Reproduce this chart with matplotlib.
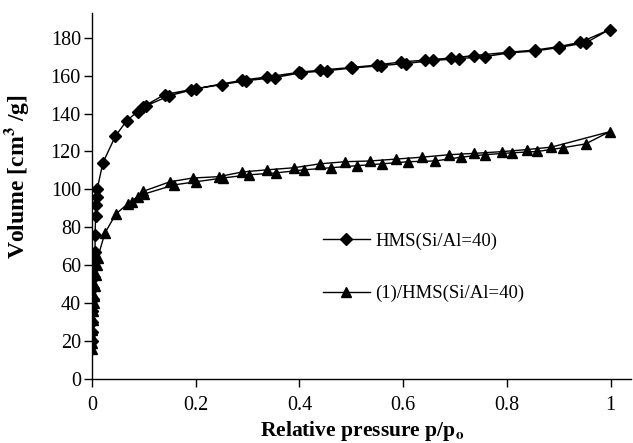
import matplotlib
matplotlib.use("Agg")
import matplotlib.pyplot as plt

plt.rcParams['font.family'] = ['Liberation Serif', 'DejaVu Serif']
plt.rcParams['mathtext.fontset'] = 'stix'

# HMS(Si/Al=40): adsorption branch then desorption branch
hms_ads_p = [0.0003, 0.0005, 0.0008, 0.001, 0.0015, 0.002, 0.003, 0.004, 0.005,
             0.006, 0.006, 0.007, 0.008, 0.009, 0.01, 0.021, 0.045, 0.067, 0.088,
             0.104, 0.149, 0.2, 0.25, 0.297, 0.353, 0.403, 0.453, 0.502, 0.558,
             0.606, 0.658, 0.708, 0.757, 0.805, 0.855, 0.9, 0.953, 0.998]
hms_ads_v = [20, 25, 30, 36, 42, 48, 54, 59, 63, 67, 76, 86, 92, 96, 100, 114,
             128, 136.3, 141, 144, 149.4, 153, 155.3, 157.3, 159, 161.5, 162.6,
             164, 165.3, 166.4, 168, 169, 170, 172, 173, 174.8, 177.4, 184.3]
hms_des_p = [0.942, 0.9, 0.855, 0.805, 0.737, 0.693, 0.643, 0.595, 0.55, 0.5,
             0.44, 0.4, 0.337, 0.29, 0.19, 0.14, 0.098]
hms_des_v = [177.6, 175.3, 173.5, 172.4, 170.6, 169.3, 168.2, 167.2, 165.6,
             164.3, 162.9, 161.8, 159.3, 157.6, 152.6, 150, 143.5]

# (1)/HMS(Si/Al=40)
cat_ads_p = [0.0003, 0.0005, 0.0008, 0.001, 0.0015, 0.002, 0.003, 0.004, 0.005,
             0.007, 0.009, 0.011, 0.025, 0.046, 0.069, 0.088, 0.1, 0.159, 0.2,
             0.252, 0.303, 0.355, 0.408, 0.46, 0.511, 0.56, 0.61, 0.662, 0.712,
             0.757, 0.81, 0.859, 0.909, 0.952, 0.998]
cat_ads_v = [16, 19, 22, 26, 31, 36, 40, 44, 49, 55, 60, 64, 77, 87, 92.4, 96,
             97.5, 102.4, 104, 106, 107.7, 108.7, 110.3, 111.4, 112.5, 113.5,
             114.6, 115, 117, 118.3, 119.3, 120, 122, 124, 130.4]
cat_des_p = [0.886, 0.839, 0.79, 0.737, 0.689, 0.637, 0.587, 0.537, 0.488,
             0.44, 0.389, 0.337, 0.29, 0.244, 0.194, 0.15, 0.098, 0.077]
cat_des_v = [122.3, 121, 119.9, 119, 118.3, 117, 116, 115, 114.6, 113.5, 111.4,
             110.3, 109.2, 106.7, 106, 104, 98.9, 93.5]

labels = ['HMS(Si/Al=40)', '(1)/HMS(Si/Al=40)']
x_ticks = [0, 0.2, 0.4, 0.6, 0.8, 1]
x_tick_labels = ['0', '0.2', '0.4', '0.6', '0.8', '1']
y_ticks = list(range(0, 181, 20))

fig = plt.figure(figsize=(6.33, 4.43), dpi=100)
ax = fig.add_axes([0.1453, 0.1445, 0.852, 0.826])

ax.plot(hms_ads_p + hms_des_p, hms_ads_v + hms_des_v, color='black', lw=1,
        marker='D', markersize=6.5, label=labels[0])
ax.plot(cat_ads_p + cat_des_p, cat_ads_v + cat_des_v, color='black', lw=1,
        marker='^', markersize=7.5, label=labels[1])

ax.set_xlim(0, 1.04)
ax.set_ylim(0, 193)
ax.set_xticks(x_ticks)
ax.set_xticklabels(x_tick_labels)
ax.set_yticks(y_ticks)
ax.tick_params(direction='out', length=6, width=1, labelsize=14.5, colors='black')
ax.tick_params(axis='x', pad=6)
ax.tick_params(axis='y', pad=2)
for s in ['top', 'right']:
    ax.spines[s].set_visible(False)
for s in ['left', 'bottom']:
    ax.spines[s].set_linewidth(1)

ax.set_xlabel('Relative pressure p/p$_\\mathbf{o}$', fontsize=15.5,
              fontweight='bold', labelpad=3)
ax.set_ylabel('Volume [cm$^\\mathbf{3}$ /g]', fontsize=17, fontweight='bold')
ax.yaxis.set_label_coords(-0.113, 0.552)

ax.legend(loc='upper left', bbox_to_anchor=(0.51, 0.475),
          bbox_transform=fig.transFigure, frameon=False, fontsize=13.5,
          handlelength=2.5, handletextpad=0.3, labelspacing=1.88,
          borderpad=0, borderaxespad=0)

fig.savefig('out.png', dpi=100)
